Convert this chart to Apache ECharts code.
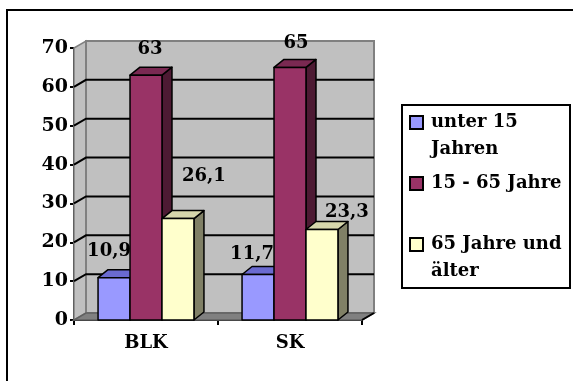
<!DOCTYPE html>
<html><head><meta charset="utf-8">
<script src="https://cdn.jsdelivr.net/npm/echarts@6/dist/echarts.min.js"></script>
<style>html,body{margin:0;padding:0;background:#fff}#c{width:573px;height:381px}</style>
</head><body><div id="c"></div>
<script>
// ---- data ----
const categories = ['BLK', 'SK'];
const seriesNames = ['unter 15 Jahren', '15 - 65 Jahre', '65 Jahre und älter'];
const under15 = [10.9, 11.7];
const age15to65 = [63, 65];
const over65 = [26.1, 23.3];
const yTicks = [0, 10, 20, 30, 40, 50, 60, 70];

// ---- style ----
const FONT = 'DejaVu Serif';
const faces = [
  { front: '#9999ff', top: '#6a6ad0', side: '#4d4d80' },
  { front: '#993366', top: '#7a2952', side: '#4d1a33' },
  { front: '#ffffcc', top: '#d6d6ab', side: '#808066' }
];
const labelShift = [[[-5, -26], [-6, -20]], [[4, -26], [6, -24]], [[26, -42], [25, -17]]];
const legendText = {
  'unter 15 Jahren': '\nunter 15\nJahren',
  '15 - 65 Jahre': '\n15 - 65 Jahre\n ',
  '65 Jahre und älter': '\n65 Jahre und\nälter'
};
const WALL_DX = 12, WALL_DY = -7, BAR_DX = 10, BAR_DY = -8;

function fmt(v) { return String(v).replace('.', ','); }

function wallRender(params, api) {
  const cs = params.coordSys;
  const L = cs.x, R = cs.x + cs.width, T = cs.y, B = cs.y + cs.height;
  const ch = [];
  ch.push({ type: 'polygon', shape: { points: [[L, B], [L, T], [L + WALL_DX, T + WALL_DY], [L + WALL_DX, B + WALL_DY]] },
    style: { fill: '#c0c0c0', stroke: '#808080', lineWidth: 1.5 } });
  ch.push({ type: 'rect', shape: { x: L + WALL_DX, y: T + WALL_DY, width: R - L, height: B - T },
    style: { fill: '#c0c0c0', stroke: '#808080', lineWidth: 2 } });
  yTicks.forEach(function (t) {
    if (t === yTicks[0] || t === yTicks[yTicks.length - 1]) return;
    const y = api.coord([0, t])[1];
    ch.push({ type: 'polyline', shape: { points: [[L, y], [L + WALL_DX, y + WALL_DY], [R + WALL_DX, y + WALL_DY]] },
      style: { fill: null, stroke: '#000', lineWidth: 2 } });
  });
  ch.push({ type: 'polygon', shape: { points: [[L, B], [R, B], [R + WALL_DX, B + WALL_DY], [L + WALL_DX, B + WALL_DY]] },
    style: { fill: '#808080', stroke: '#606060', lineWidth: 1.5 } });
  ch.push({ type: 'line', shape: { x1: R, y1: B, x2: R + WALL_DX, y2: B + WALL_DY },
    style: { stroke: '#000', lineWidth: 2 } });
  return { type: 'group', children: ch };
}

function barRender(k) {
  return function (params, api) {
    const ci = api.value(0), v = api.value(1);
    const base = api.coord([ci, 0]);
    const tp = api.coord([ci, v]);
    const band = api.size([1, 0])[0];
    const w = band * 0.222;
    const x0 = base[0] - 1.5 * w + k * w;
    const yT = tp[1], yB = base[1];
    const f = faces[k];
    const st = { stroke: '#000', lineWidth: 1.5, lineJoin: 'round' };
    const off = labelShift[k][params.dataIndex];
    return { type: 'group', children: [
      { type: 'polygon', shape: { points: [[x0 + w, yT], [x0 + w + BAR_DX, yT + BAR_DY], [x0 + w + BAR_DX, yB + BAR_DY], [x0 + w, yB]] },
        style: Object.assign({ fill: f.side }, st) },
      { type: 'polygon', shape: { points: [[x0, yT], [x0 + BAR_DX, yT + BAR_DY], [x0 + w + BAR_DX, yT + BAR_DY], [x0 + w, yT]] },
        style: Object.assign({ fill: f.top }, st) },
      { type: 'rect', shape: { x: x0, y: yT, width: w, height: yB - yT },
        style: Object.assign({ fill: f.front }, st) },
      { type: 'text', z2: 100, style: { text: fmt(v), x: x0 + w / 2 + off[0], y: yT + off[1],
        align: 'center', verticalAlign: 'middle', fill: '#000',
        font: 'bold 18px "' + FONT + '"' } }
    ] };
  };
}

const seriesData = [under15, age15to65, over65];
const series = [{
  name: 'bg', type: 'custom', renderItem: wallRender, silent: true, z: 1,
  data: [[0, 0]], encode: { x: 0, y: 1 }
}];
seriesData.forEach(function (vals, k) {
  series.push({
    name: seriesNames[k], type: 'custom', renderItem: barRender(k), z: 2 + k,
    itemStyle: { color: faces[k].front, borderColor: '#000', borderWidth: 2 },
    data: categories.map(function (c, i) { return [i, vals[i]]; }),
    encode: { x: 0, y: 1 }
  });
});

const chart = echarts.init(document.getElementById('c'), null, { renderer: 'canvas' });
chart.setOption({
  animation: false,
  backgroundColor: '#fff',
  grid: { left: 74, top: 48, width: 288, bottom: 61, containLabel: false },
  xAxis: {
    type: 'category', data: categories, boundaryGap: true,
    axisLine: { show: true, lineStyle: { color: '#000', width: 2 } },
    axisTick: { show: true, alignWithLabel: false, length: 5, lineStyle: { color: '#000', width: 2 } },
    axisLabel: { margin: 14, color: '#000', fontFamily: FONT, fontWeight: 'bold', fontSize: 18 },
    splitLine: { show: false }
  },
  yAxis: {
    type: 'value', min: yTicks[0], max: yTicks[yTicks.length - 1], interval: yTicks[1] - yTicks[0],
    axisLine: { show: true, lineStyle: { color: '#000', width: 2 } },
    axisTick: { show: true, length: 4, lineStyle: { color: '#000', width: 2 } },
    axisLabel: { margin: 6, color: '#000', fontFamily: FONT, fontWeight: 'bold', fontSize: 19 },
    splitLine: { show: false }
  },
  legend: {
    data: seriesNames, orient: 'vertical', left: 409, top: 82, padding: 0,
    itemWidth: 13, itemHeight: 13, itemGap: -20, icon: 'rect', selectedMode: false,
    itemStyle: { borderColor: '#000', borderWidth: 2 },
    formatter: function (n) { return legendText[n] || n; },
    textStyle: { fontFamily: FONT, fontWeight: 'bold', fontSize: 18, lineHeight: 27, color: '#000',
      padding: [0, 0, 0, 3] }
  },
  graphic: [
    { type: 'rect', silent: true, z: -1, shape: { x: 7, y: 10, width: 572, height: 380 },
      style: { fill: 'none', stroke: '#000', lineWidth: 2 } },
    { type: 'rect', silent: true, shape: { x: 402, y: 105, width: 168, height: 183 },
      style: { fill: 'none', stroke: '#000', lineWidth: 2 } }
  ],
  series: series
});
</script></body></html>
